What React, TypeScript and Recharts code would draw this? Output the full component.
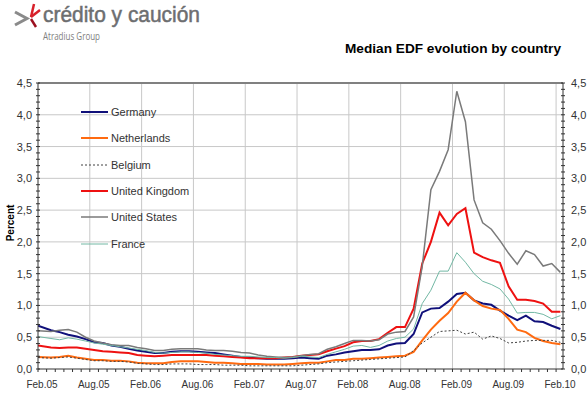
import { Legend, Line, LineChart, ReferenceLine, XAxis, YAxis } from "recharts";

// Median EDF by country, month-end readings Feb.05 .. Feb.10 (percent)
const GERMANY = [
  0.68, 0.61, 0.58, 0.54, 0.51, 0.47, 0.42, 0.41, 0.37, 0.35,
  0.32, 0.29, 0.27, 0.25, 0.25, 0.27, 0.28, 0.28, 0.27, 0.26,
  0.25, 0.23, 0.21, 0.19, 0.18, 0.17, 0.16, 0.16, 0.16, 0.17,
  0.18, 0.17, 0.16, 0.21, 0.23, 0.26, 0.28, 0.3, 0.3, 0.31,
  0.37, 0.4, 0.41, 0.55, 0.89, 0.95, 0.96, 1.06, 1.18, 1.2,
  1.08, 1.03, 1.01, 0.92, 0.84, 0.77, 0.84, 0.75, 0.74, 0.68,
  0.63,
];
const NETHERLANDS = [
  0.19, 0.18, 0.19, 0.21, 0.18, 0.16, 0.14, 0.14, 0.13, 0.13,
  0.12, 0.1, 0.09, 0.09, 0.09, 0.11, 0.12, 0.12, 0.12, 0.11,
  0.1, 0.1, 0.09, 0.08, 0.08, 0.08, 0.07, 0.07, 0.07, 0.08,
  0.09, 0.1, 0.1, 0.12, 0.14, 0.14, 0.16, 0.16, 0.17, 0.18,
  0.19, 0.2, 0.21, 0.27, 0.45, 0.62, 0.76, 0.88, 1.06, 1.2,
  1.08, 0.99, 0.95, 0.93, 0.79, 0.62, 0.58, 0.49, 0.44, 0.41,
  0.39,
];
const BELGIUM = [
  0.18, 0.17, 0.18, 0.19, 0.17, 0.15, 0.13, 0.13, 0.12, 0.12,
  0.11, 0.09, 0.08, 0.07, 0.07, 0.08, 0.08, 0.08, 0.07, 0.07,
  0.07, 0.06, 0.06, 0.06, 0.05, 0.05, 0.05, 0.05, 0.05, 0.05,
  0.06, 0.07, 0.08, 0.1, 0.11, 0.12, 0.13, 0.14, 0.15, 0.16,
  0.17, 0.18, 0.19, 0.29, 0.41, 0.5, 0.59, 0.6, 0.61, 0.55,
  0.58, 0.47, 0.52, 0.48, 0.41, 0.42, 0.44, 0.45, 0.45, 0.45,
  0.42,
];
const UK = [
  0.37, 0.34, 0.33, 0.34, 0.34, 0.32, 0.3, 0.28, 0.27, 0.26,
  0.25, 0.22, 0.21, 0.2, 0.21, 0.22, 0.22, 0.22, 0.22, 0.22,
  0.21, 0.2, 0.19, 0.18, 0.17, 0.17, 0.17, 0.17, 0.18, 0.19,
  0.21, 0.22, 0.23, 0.28, 0.32, 0.36, 0.42, 0.44, 0.44, 0.47,
  0.57, 0.66, 0.66, 0.95, 1.66, 2.0, 2.46, 2.26, 2.44, 2.53,
  1.83, 1.76, 1.71, 1.67, 1.3, 1.09, 1.09, 1.07, 1.03, 0.9,
  0.9,
];
const US = [
  0.6, 0.59, 0.61, 0.62, 0.58, 0.5, 0.44, 0.41, 0.38, 0.37,
  0.37, 0.34, 0.32, 0.29, 0.29, 0.31, 0.32, 0.32, 0.32, 0.3,
  0.29, 0.29, 0.28, 0.26, 0.25, 0.22, 0.2, 0.19, 0.18, 0.19,
  0.21, 0.23, 0.24, 0.31, 0.35, 0.4, 0.45, 0.45, 0.44, 0.46,
  0.55, 0.58, 0.59, 0.82, 1.62, 2.82, 3.11, 3.45, 4.37, 3.89,
  2.66, 2.3, 2.2, 2.02, 1.82, 1.65, 1.86, 1.8, 1.62, 1.66,
  1.52,
];
const FRANCE = [
  0.51, 0.48, 0.46, 0.49, 0.47, 0.44, 0.41, 0.39, 0.37, 0.35,
  0.33, 0.31, 0.29, 0.26, 0.25, 0.26, 0.27, 0.27, 0.26, 0.25,
  0.23, 0.22, 0.21, 0.2, 0.2, 0.19, 0.18, 0.18, 0.17, 0.18,
  0.2, 0.19, 0.18, 0.23, 0.27, 0.31, 0.36, 0.37, 0.34, 0.37,
  0.44, 0.48, 0.5, 0.63, 1.03, 1.24, 1.54, 1.54, 1.83, 1.68,
  1.5, 1.38, 1.33, 1.26, 1.1, 0.88, 0.89, 0.89, 0.86, 0.79,
  0.84,
];

const X_LABELS = [
  "Feb.05", "Aug.05", "Feb.06", "Aug.06", "Feb.07", "Aug.07",
  "Feb.08", "Aug.08", "Feb.09", "Aug.09", "Feb.10",
];

// x is months since Feb.05; readings sit mid-month, first one on the axis
const MONTH_X = GERMANY.map((_, i) => (i === 0 ? 0 : i + 0.5));
const MONTH_TICKS = Array.from({ length: 61 }, (_, i) => i);
const Y_TICKS = Array.from({ length: 46 }, (_, i) => i / 10);
const V_GRID = [6, 12, 18, 24, 30, 36, 42, 48, 54, 60];
const H_GRID = [0.5, 1, 1.5, 2, 2.5, 3, 3.5, 4];

const SERIES = [
  { key: "germany", name: "Germany", color: "#10107a", width: 2, dash: undefined },
  { key: "netherlands", name: "Netherlands", color: "#ff6a10", width: 2, dash: undefined },
  { key: "belgium", name: "Belgium", color: "#404040", width: 1, dash: "2 2" },
  { key: "uk", name: "United Kingdom", color: "#ee1111", width: 2, dash: undefined },
  { key: "us", name: "United States", color: "#7a7a7a", width: 1.5, dash: undefined },
  { key: "france", name: "France", color: "#72b8a4", width: 1, dash: undefined },
];

const rows = MONTH_X.map((m, i) => ({
  m,
  germany: GERMANY[i],
  netherlands: NETHERLANDS[i],
  belgium: BELGIUM[i],
  uk: UK[i],
  us: US[i],
  france: FRANCE[i],
}));

const FONT = "'Liberation Sans', Arial, sans-serif";

const XTick = (props: any) => {
  const { x, y, payload } = props;
  const v = payload.value;
  const label = v % 6 === 0 ? X_LABELS[v / 6] : null;
  return (
    <g>
      <line x1={x} x2={x} y1={y} y2={y + 3} stroke="#333" />
      {label && (
        <text x={x + 4} y={y + 19} textAnchor="middle" fontSize={10} fill="#333" fontFamily={FONT}>
          {label}
        </text>
      )}
    </g>
  );
};

const YTick = (props: any) => {
  const { x, y, payload, side } = props;
  const v = payload.value;
  const major = Math.round(v * 10) % 5 === 0;
  const left = side === "left";
  return (
    <g>
      <line x1={x - 2} x2={x + 2} y1={y} y2={y} stroke="#333" />
      {major && (
        <text
          x={left ? x - 6 : x + 8}
          y={y + 4}
          textAnchor={left ? "end" : "start"}
          fontSize={11}
          fill="#333"
          fontFamily={FONT}
        >
          {v.toFixed(1).replace(".", ",")}
        </text>
      )}
    </g>
  );
};

const renderLegend = () => (
  <div style={{ fontFamily: FONT, fontSize: 11, color: "#333" }}>
    {SERIES.map((s) => (
      <div key={s.key} style={{ display: "flex", alignItems: "center", height: 26.3 }}>
        <svg width={27} height={4} style={{ display: "block" }}>
          <line x1={0} x2={27} y1={2} y2={2} stroke={s.color} strokeWidth={s.width} strokeDasharray={s.dash} />
        </svg>
        <span style={{ marginLeft: 3, whiteSpace: "nowrap" }}>{s.name}</span>
      </div>
    ))}
  </div>
);

export default function App() {
  return (
    <div style={{ position: "absolute", left: 0, top: 0, width: 587, height: 393, background: "#fff" }}>
      <LineChart width={587} height={393} data={rows} margin={{ top: 83, right: 0, bottom: 0, left: 0 }}>
        <XAxis
          type="number"
          dataKey="m"
          domain={[0, 60.8]}
          ticks={MONTH_TICKS}
          interval={0}
          tick={<XTick />}
          tickLine={false}
          tickSize={0}
          tickMargin={0}
          axisLine={{ stroke: "#333" }}
          height={24}
          allowDataOverflow
        />
        <YAxis
          yAxisId="left"
          domain={[0, 4.5]}
          ticks={Y_TICKS}
          interval={0}
          tick={<YTick side="left" />}
          tickLine={false}
          tickSize={0}
          tickMargin={0}
          axisLine={{ stroke: "#333" }}
          width={38}
          allowDataOverflow
        />
        <YAxis
          yAxisId="right"
          orientation="right"
          domain={[0, 4.5]}
          ticks={Y_TICKS}
          interval={0}
          tick={<YTick side="right" />}
          tickLine={false}
          tickSize={0}
          tickMargin={0}
          axisLine={{ stroke: "#333" }}
          width={24}
          allowDataOverflow
        />
        {V_GRID.map((v) => (
          <ReferenceLine key={"v" + v} yAxisId="left" x={v} stroke="#c8c8c8" />
        ))}
        {H_GRID.map((v) => (
          <ReferenceLine key={"h" + v} yAxisId="left" y={v} stroke="#c8c8c8" />
        ))}
        <ReferenceLine yAxisId="left" y={4.5} stroke="#808080" strokeWidth={2} />
        {/* invisible twin so the right-hand axis has a series of its own */}
        <Line
          yAxisId="right"
          dataKey="us"
          stroke="none"
          dot={false}
          activeDot={false}
          legendType="none"
          isAnimationActive={false}
        />
        {SERIES.map((s) => (
          <Line
            key={s.key}
            yAxisId="left"
            type="linear"
            dataKey={s.key}
            name={s.name}
            stroke={s.color}
            strokeWidth={s.width}
            strokeDasharray={s.dash}
            dot={false}
            activeDot={false}
            isAnimationActive={false}
          />
        ))}
        <Legend
          layout="vertical"
          align="center"
          verticalAlign="middle"
          content={renderLegend}
          wrapperStyle={{ left: 81, top: 99, width: "auto" }}
        />
      </LineChart>
      <svg
        width={587}
        height={393}
        style={{ position: "absolute", left: 0, top: 0, pointerEvents: "none" }}
      >
        <polyline points="15,12 27,18.5 15,25" fill="none" stroke="#8a8a8a" strokeWidth={3} />
        <line x1={31} y1={17} x2={34} y2={4} stroke="#d8202a" strokeWidth={2.5} />
        <line x1={31} y1={17} x2={40} y2={10} stroke="#d8202a" strokeWidth={2.5} />
        <line x1={31} y1={19} x2={36} y2={27} stroke="#9c1020" strokeWidth={2.5} />
        <text
          x={43}
          y={21.5}
          fontSize={22}
          fill="#6d6e70"
          stroke="#6d6e70"
          strokeWidth={0.5}
          fontFamily={FONT}
          textLength={157}
          lengthAdjust="spacingAndGlyphs"
        >
          crédito y caución
        </text>
        <text
          x={43}
          y={40}
          fontSize={10}
          fill="#808080"
          fontFamily="'Open Sans', sans-serif"
          textLength={57}
          lengthAdjust="spacingAndGlyphs"
        >
          Atradius Group
        </text>
        <text
          x={561}
          y={53}
          textAnchor="end"
          fontSize={13}
          fontWeight="bold"
          fill="#000"
          fontFamily={FONT}
          textLength={216}
          lengthAdjust="spacingAndGlyphs"
        >
          Median EDF evolution by country
        </text>
        <text
          transform="translate(13.5,223) rotate(-90)"
          textAnchor="middle"
          fontSize={10}
          fontWeight="bold"
          fill="#000"
          fontFamily={FONT}
        >
          Percent
        </text>
      </svg>
    </div>
  );
}
